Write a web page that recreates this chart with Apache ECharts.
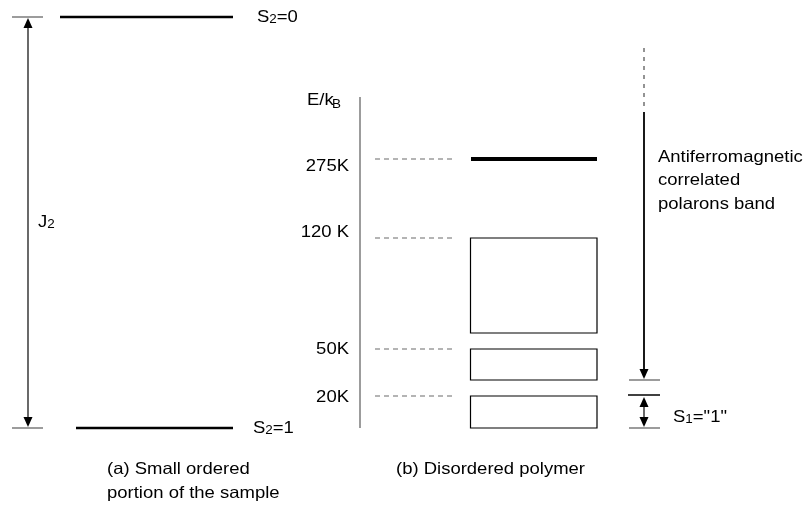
<!DOCTYPE html>
<html><head><meta charset="utf-8">
<script src="https://cdn.jsdelivr.net/npm/echarts@6/dist/echarts.min.js"></script>
<style>html,body{margin:0;padding:0;background:#fff}#c{width:806px;height:509px}</style>
</head><body><div id="c"></div>
<script>
// ---------- data ----------
const orderedStates = ['0', '1'];              // S2 values of the ordered portion
const orderedStateY = [17, 428];               // schematic level heights (diagram units)
const levelLabels = ['275K', '120 K', '50K', '20K'];
const levelEnergyK = [275, 120, 50, 20];
const levelTopY = [159, 238, 349, 396];        // schematic band tops (diagram units)
const levelBottomY = [159, 333, 380, 428];     // schematic band bottoms (diagram units)
const bandText = ['Antiferromagnetic', 'correlated', 'polarons band'];
const captions = [['(a) Small ordered', 'portion of the sample'], ['(b) Disordered polymer']];

// ---------- drawing ----------
const FONT = '"Liberation Sans", Arial, Helvetica, sans-serif';
const GRAY = '#9c9c9c';
const FS = 16.5, SUB = 12, SX = 1.12;
const chart = echarts.init(document.getElementById('c'));

function seg(api, a, b, stroke, w, dash) {
  const p = api.coord(a), q = api.coord(b);
  return {type: 'line', shape: {x1: p[0], y1: p[1], x2: q[0], y2: q[1]},
          style: {stroke: stroke, lineWidth: w, lineDash: dash || null}};
}
function head(api, tip, dir) { // dir 1 = points down, -1 = points up
  const t = api.coord(tip), w = 4.5, h = 10;
  return {type: 'polygon', shape: {points: [[t[0], t[1]], [t[0] - w, t[1] - dir * h], [t[0] + w, t[1] - dir * h]]},
          style: {fill: '#000'}};
}
function label(api, pos, text, align, rich, size) {
  const p = api.coord(pos);
  return {type: 'text', x: p[0], y: p[1], scaleX: SX,
          style: {text: text, fill: '#000', fontSize: size || FS, fontFamily: FONT,
                  align: align || 'left', verticalAlign: 'middle', rich: rich || undefined}};
}
const subRich = {
  n: {fontSize: FS, fontFamily: FONT, fill: '#000', verticalAlign: 'bottom'},
  s: {fontSize: SUB, fontFamily: FONT, fill: '#000', verticalAlign: 'bottom'}
};

const series = [
  // ordered portion: two spin levels
  {
    type: 'custom', clip: false,
    data: orderedStateY.map((y, i) => [i, y]),
    renderItem: function (params, api) {
      const i = params.dataIndex, y = api.value(1);
      const xStart = i === 0 ? 60 : 76, xLab = i === 0 ? 257 : 253;
      return {type: 'group', children: [
        seg(api, [12, y], [43, y], GRAY, 2),
        seg(api, [xStart, y], [233, y], '#000', 2.5),
        label(api, [xLab, y], '{n|S}{s|2}{n|=' + orderedStates[i] + '}', 'left', subRich)
      ]};
    }
  },
  // J2 double arrow
  {
    type: 'custom', clip: false, data: [[0, 0]],
    renderItem: function (params, api) {
      const y0 = orderedStateY[0], y1 = orderedStateY[1];
      return {type: 'group', children: [
        seg(api, [28, y0 + 6], [28, y1 - 6], '#444', 1.6),
        head(api, [28, y0 + 1], -1),
        head(api, [28, y1 - 1], 1),
        label(api, [38, 222], '{n|J}{s|2}', 'left', subRich)
      ]};
    }
  },
  // energy axis
  {
    type: 'custom', clip: false, data: [[0, 0]],
    renderItem: function (params, api) {
      return {type: 'group', children: [
        seg(api, [360, 97], [360, levelBottomY[levelBottomY.length - 1]], GRAY, 2),
        label(api, [307, 100], 'E/k'),
        label(api, [332, 105], 'B', 'left', null, SUB)
      ]};
    }
  },
  // levels / bands of the disordered polymer
  {
    type: 'custom', clip: false,
    data: levelEnergyK.map((e, i) => [i, levelTopY[i], levelBottomY[i]]),
    renderItem: function (params, api) {
      const i = params.dataIndex, top = api.value(1), bot = api.value(2);
      const labelDy = [7, -6, 0, 1][i];
      const children = [
        seg(api, [375, top], [455, top], GRAY, 1.5, [5, 4]),
        label(api, [349, top + labelDy], levelLabels[i], 'right')
      ];
      if (bot - top < 2) {
        children.push(seg(api, [471, top], [597, top], '#000', 4));
      } else {
        const a = api.coord([470.5, top]), b = api.coord([597, bot]);
        children.push({type: 'rect', shape: {x: a[0], y: a[1], width: b[0] - a[0], height: b[1] - a[1]},
                       style: {fill: 'none', stroke: '#000', lineWidth: 1.2}});
      }
      return {type: 'group', children: children};
    }
  },
  // right side arrows: polaron band and S1 = "1"
  {
    type: 'custom', clip: false, data: [[0, 0]],
    renderItem: function (params, api) {
      const x = 644, bandBot = levelBottomY[2], s1Top = levelTopY[3], s1Bot = levelBottomY[3];
      const children = [
        seg(api, [x, 48], [x, 111], '#888', 1.8, [4, 5]),
        seg(api, [x, 112], [x, bandBot - 8], '#000', 1.8),
        head(api, [x, bandBot - 1], 1),
        seg(api, [629, bandBot], [660, bandBot], GRAY, 2),
        seg(api, [628, s1Top - 1], [660, s1Top - 1], '#000', 1.5),
        seg(api, [x, s1Top + 6], [x, s1Bot - 6], '#444', 1.6),
        head(api, [x, s1Top + 1], -1),
        head(api, [x, s1Bot - 1], 1),
        seg(api, [629, s1Bot], [660, s1Bot], GRAY, 2),
        label(api, [673, 417], '{n|S}{s|1}{n|="1"}', 'left', subRich)
      ];
      bandText.forEach((t, k) => children.push(label(api, [658, 157 + k * 23.5], t, 'left')));
      return {type: 'group', children: children};
    }
  },
  // captions
  {
    type: 'custom', clip: false, data: captions.map((c, i) => [i, 0]),
    renderItem: function (params, api) {
      const i = params.dataIndex, x0 = [107, 396][i];
      return {type: 'group', children: captions[i].map((t, k) => label(api, [x0, 469 + k * 24], t, 'left'))};
    }
  }
];

chart.setOption({
  animation: false,
  backgroundColor: '#fff',
  grid: {left: 0, right: 0, top: 0, bottom: 0},
  xAxis: {type: 'value', min: 0, max: 806, show: false},
  yAxis: {type: 'value', min: 0, max: 509, inverse: true, show: false},
  series: series
});
</script>
</body></html>
